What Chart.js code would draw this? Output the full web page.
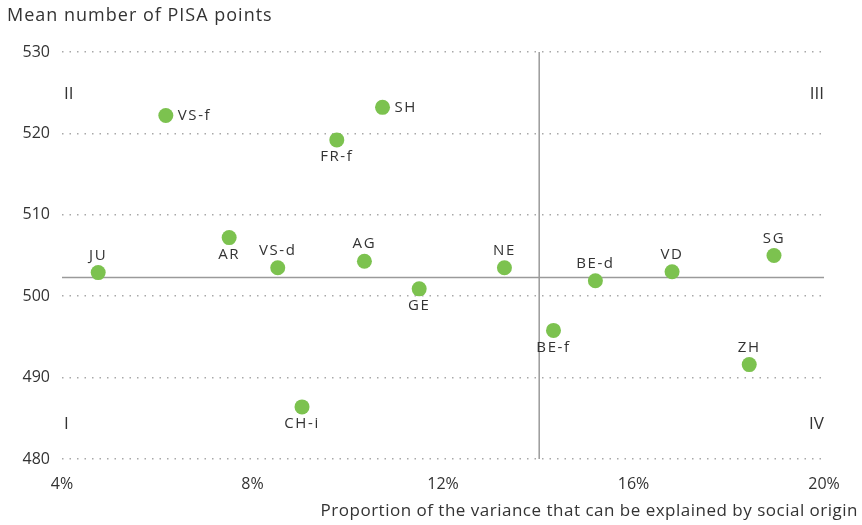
<!DOCTYPE html>
<html><head><meta charset="utf-8">
<script src="https://cdn.jsdelivr.net/npm/chart.js@4/dist/chart.umd.min.js"></script>
<style>html,body{margin:0;padding:0;background:#fff}</style>
</head><body>
<canvas id="c" width="862" height="525"></canvas>
<script>
// ---- data ----
const cantons       = ['JU','VS-f','AR','VS-d','FR-f','SH','CH-i','AG','GE','NE','BE-f','BE-d','VD','SG','ZH'];
const varianceShare = [4.76, 6.18, 7.51, 8.53, 9.77, 10.73, 9.04, 10.35, 11.50, 13.29, 14.32, 15.20, 16.81, 18.95, 18.43];
const pisaMean      = [502.9, 522.2, 507.2, 503.5, 519.2, 523.2, 486.4, 504.3, 500.9, 503.5, 495.8, 501.9, 503.0, 505.0, 491.6];
const meanPisa      = 502.3;
const meanVariance  = 14.02;
const xRange        = [4, 20];
const yRange        = [480, 530];
const quadrantNames = ['I', 'II', 'III', 'IV'];
const yTitle = 'Mean number of PISA points';
const xTitle = 'Proportion of the variance that can be explained by social origin';

// label placement (style, not data)
const labelSide = {'JU':'above','VS-f':'right','AR':'below','VS-d':'above','FR-f':'below','SH':'right',
  'CH-i':'below','AG':'above','GE':'below','NE':'above','BE-f':'below','BE-d':'above','VD':'above','SG':'above','ZH':'above'};

const FONT = '"Open Sans", "DejaVu Sans", sans-serif';
const TXT = '#333333';

const points = cantons.map((c, i) => ({x: varianceShare[i], y: pisaMean[i]}));

const overlay = {
  id: 'overlay',
  afterDatasetsDraw(chart) {
    const ctx = chart.ctx, ca = chart.chartArea;
    ctx.save();
    ctx.fillStyle = TXT;
    ctx.letterSpacing = '1.6px';
    ctx.font = '15px ' + FONT;
    const meta = chart.getDatasetMeta(2);
    meta.data.forEach((el, i) => {
      const side = labelSide[cantons[i]];
      ctx.textBaseline = 'middle';
      if (side === 'right') {
        ctx.textAlign = 'left';
        ctx.fillText(cantons[i], el.x + 12, el.y);
      } else if (side === 'above') {
        ctx.textAlign = 'center';
        ctx.fillText(cantons[i], el.x, el.y - 17);
      } else {
        ctx.textAlign = 'center';
        ctx.fillText(cantons[i], el.x, el.y + 17);
      }
    });
    // quadrant names
    ctx.font = '17px ' + FONT;
    ctx.letterSpacing = '0px';
    ctx.textBaseline = 'middle';
    ctx.textAlign = 'left';
    ctx.fillText(quadrantNames[1], ca.left + 2, 94);
    ctx.fillText(quadrantNames[0], ca.left + 2, 424);
    ctx.textAlign = 'right';
    ctx.fillText(quadrantNames[2], ca.right, 94);
    ctx.fillText(quadrantNames[3], ca.right, 424);
    // titles
    ctx.font = '18px ' + FONT;
    ctx.letterSpacing = '1px';
    ctx.textAlign = 'left';
    ctx.fillText(yTitle, 7, 16);
    ctx.font = '17px ' + FONT;
    ctx.letterSpacing = '0.5px';
    ctx.textAlign = 'right';
    ctx.fillText(xTitle, 858, 511);
    ctx.restore();
  }
};

new Chart(document.getElementById('c'), {
  type: 'scatter',
  data: {
    datasets: [
      { type: 'line', data: [{x: xRange[0], y: meanPisa}, {x: xRange[1], y: meanPisa}],
        borderColor: '#9a9a9a', borderWidth: 1.5, pointRadius: 0, fill: false, order: 3 },
      { type: 'line', data: [{x: meanVariance, y: yRange[0]}, {x: meanVariance, y: yRange[1]}],
        borderColor: '#9a9a9a', borderWidth: 1.5, pointRadius: 0, fill: false, order: 3 },
      { data: points, backgroundColor: '#7cc24f', borderWidth: 0, pointRadius: 7.5, pointHoverRadius: 7.5, order: 1 }
    ]
  },
  options: {
    responsive: false,
    animation: false,
    devicePixelRatio: 1,
    layout: { padding: { top: 52, right: 38, left: 0, bottom: 0 } },
    plugins: { legend: { display: false }, tooltip: { enabled: false }, title: { display: false } },
    scales: {
      x: {
        type: 'linear', min: xRange[0], max: xRange[1],
        afterFit(s) { s.height = 66; },
        grid: { display: false, drawTicks: false },
        border: { display: false },
        ticks: { stepSize: 4, padding: 16, color: TXT, font: { family: FONT, size: 16 },
                 callback: v => v + '%' }
      },
      y: {
        min: yRange[0], max: yRange[1],
        afterFit(s) { s.width = 62; },
        grid: { color: '#a8a8a8', lineWidth: 1.5, drawTicks: false },
        border: { display: false, dash: [1.5, 6] },
        ticks: { stepSize: 10, padding: 12, color: TXT, font: { family: FONT, size: 16 } }
      }
    }
  },
  plugins: [overlay]
});
</script>
</body></html>
